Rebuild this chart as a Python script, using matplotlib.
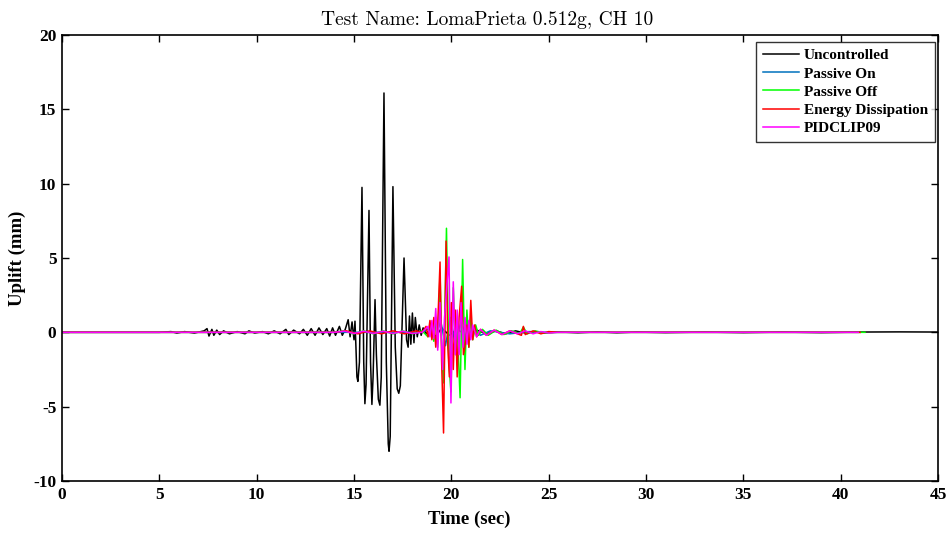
import matplotlib
matplotlib.use("Agg")
import matplotlib.pyplot as plt

# ---- data: (time sec, uplift mm) samples for each control case ----
uncontrolled = [
    (0.0, 0.0), (5.0, 0.0), (5.6, 0.05), (5.9, -0.05), (6.3, 0.05), (6.8, -0.05),
    (7.3, 0.1), (7.45, 0.25), (7.55, -0.25), (7.7, 0.2), (7.8, -0.2), (7.95, 0.15),
    (8.1, -0.15), (8.3, 0.1), (8.6, -0.1), (9.0, 0.05), (9.4, -0.1), (9.6, 0.1),
    (9.9, -0.05), (10.3, 0.05), (10.6, -0.1), (10.9, 0.1), (11.2, -0.1), (11.5, 0.2),
    (11.65, -0.15), (11.9, 0.15), (12.2, -0.1), (12.4, 0.2), (12.6, -0.2), (12.8, 0.25),
    (13.0, -0.2), (13.2, 0.3), (13.4, -0.15), (13.6, 0.25), (13.75, -0.25), (13.9, 0.3),
    (14.05, -0.2), (14.25, 0.4), (14.4, -0.2), (14.55, 0.2), (14.7, 0.85), (14.8, -0.3),
    (14.9, 0.7), (15.0, -0.5), (15.05, 0.75), (15.1, -1.0), (15.15, -3.0), (15.2, -3.3),
    (15.28, -2.0), (15.41, 9.75), (15.5, -2.0), (15.56, -4.8), (15.62, -3.5),
    (15.77, 8.2), (15.85, -2.0), (15.92, -4.85), (15.98, -3.0), (16.08, 2.2),
    (16.15, -1.5), (16.25, -4.5), (16.33, -4.9), (16.4, -3.0), (16.54, 16.1),
    (16.66, -2.0), (16.76, -7.5), (16.8, -8.0), (16.86, -7.0), (17.0, 9.8),
    (17.12, -1.0), (17.22, -3.8), (17.3, -4.1), (17.38, -3.6), (17.57, 5.0),
    (17.7, -0.5), (17.78, -1.0), (17.85, 1.1), (17.92, -0.8), (18.0, 1.3),
    (18.08, -0.7), (18.15, 1.0), (18.25, -0.3), (18.35, 0.5), (18.45, -0.2),
    (18.55, 0.3), (18.7, -0.1), (18.9, 0.2), (19.2, -0.3), (19.5, 0.3), (19.9, -0.2),
    (20.3, 0.2), (20.8, -0.2), (21.3, 0.15), (21.8, -0.1), (22.3, 0.1), (22.8, -0.1),
    (23.3, 0.1), (23.8, -0.05), (24.3, 0.05), (24.8, -0.05), (25.5, 0.03),
    (26.5, -0.03), (27.5, 0.03), (28.5, -0.03), (29.5, 0.02), (31.0, -0.02),
    (33.0, 0.02), (35.0, -0.02), (37.0, 0.02), (39.0, -0.02), (41.0, 0.02),
    (43.0, 0.03), (45.0, 0.02),
]

passive_on = [
    (0.0, 0.0), (18.5, 0.0), (18.9, 0.3), (19.2, -0.4), (19.45, 0.8), (19.7, -0.9),
    (19.95, 1.0), (20.2, -0.8), (20.5, 0.7), (20.8, -0.5), (21.1, 0.3), (21.5, -0.2),
    (22.0, 0.1), (23.0, -0.1), (24.0, 0.05), (25.0, 0.0), (41.0, 0.0),
]

passive_off = [
    (0.0, 0.0), (14.0, 0.0), (14.5, 0.1), (15.0, -0.1), (15.5, 0.1), (16.0, -0.1),
    (16.5, 0.1), (17.0, -0.1), (17.5, 0.1), (18.0, -0.1), (18.5, 0.1), (18.8, -0.3),
    (19.0, 0.5), (19.1, -0.6), (19.2, 1.0), (19.3, -1.0), (19.42, 4.0), (19.52, -1.5),
    (19.6, -3.4), (19.75, 7.0), (19.87, -2.0), (19.98, -4.0), (20.1, 3.0),
    (20.22, -1.5), (20.3, 0.5), (20.45, -4.4), (20.58, 4.9), (20.7, -2.5), (20.8, 1.5),
    (20.9, -1.0), (21.0, 1.0), (21.1, -0.5), (21.25, 0.5), (21.4, -0.2), (21.6, 0.2),
    (21.9, -0.2), (22.3, 0.15), (22.7, -0.15), (23.1, 0.1), (23.5, -0.1), (23.7, 0.35),
    (23.9, -0.1), (24.3, 0.1), (24.8, -0.05), (25.5, 0.0), (41.25, 0.0),
]

energy_dissipation = [
    (0.0, 0.0), (14.0, 0.0), (14.6, 0.1), (15.2, -0.1), (15.8, 0.1), (16.4, -0.1),
    (17.0, 0.1), (17.6, -0.1), (18.2, 0.1), (18.5, 0.0), (18.7, 0.4), (18.8, -0.3),
    (18.9, 0.8), (19.0, -0.5), (19.1, 1.0), (19.2, -1.0), (19.3, 0.5), (19.42, 4.73),
    (19.5, -1.9), (19.6, -6.77), (19.73, 6.14), (19.82, -1.0), (19.9, -3.0),
    (20.0, 2.0), (20.1, -2.5), (20.2, 1.5), (20.3, -3.0), (20.4, 1.0), (20.53, 3.1),
    (20.62, -1.5), (20.7, -1.0), (20.8, 0.5), (20.9, -1.0), (21.0, 2.15), (21.1, -0.5),
    (21.2, 0.5), (21.3, -0.3), (21.5, 0.2), (21.8, -0.2), (22.2, 0.15), (22.6, -0.15),
    (23.0, 0.1), (23.4, -0.1), (23.6, -0.2), (23.7, 0.4), (23.8, -0.15), (24.2, 0.1),
    (24.6, -0.1), (25.0, 0.05), (25.5, 0.0), (41.0, 0.0),
]

pidclip09 = [
    (0.0, 0.0), (14.0, 0.0), (14.5, 0.08), (15.0, -0.08), (15.5, 0.08), (16.0, -0.08),
    (16.5, 0.08), (17.0, -0.08), (17.5, 0.08), (18.0, -0.08), (18.5, 0.0), (18.8, 0.4),
    (18.9, -0.3), (19.0, 0.8), (19.1, -0.4), (19.2, 1.6), (19.3, -1.2), (19.42, 2.0),
    (19.55, -2.5), (19.65, 1.0), (19.88, 5.07), (19.98, -4.75), (20.1, 3.4),
    (20.2, -1.5), (20.3, 1.5), (20.4, -1.5), (20.5, 2.0), (20.6, -1.0), (20.7, 1.0),
    (20.8, -0.8), (20.9, 0.8), (21.0, -0.5), (21.1, 0.5), (21.3, -0.3), (21.5, 0.2),
    (21.8, -0.2), (22.2, 0.15), (22.6, -0.15), (23.0, 0.1), (23.4, -0.1), (23.8, 0.1),
    (24.2, -0.1), (24.6, 0.05), (25.0, -0.05), (25.5, 0.0), (40.9, 0.0),
]

series_names = ["Uncontrolled", "Passive On", "Passive Off",
                "Energy Dissipation", "PIDCLIP09"]
series_colors = ["#000000", "#0072BD", "#00FF00", "#FF0000", "#FF00FF"]

x_ticks = [0, 5, 10, 15, 20, 25, 30, 35, 40, 45]
y_ticks = [-10, -5, 0, 5, 10, 15, 20]

# ---- figure ----
plt.rcParams["font.family"] = ["Liberation Serif", "DejaVu Serif"]
plt.rcParams["axes.unicode_minus"] = False
fig = plt.figure(figsize=(9.52, 5.34), dpi=100)
ax = fig.add_axes([62 / 952, 1 - 481 / 534, 876 / 952, 446 / 534])

all_series = [uncontrolled, passive_on, passive_off, energy_dissipation, pidclip09]
for samples, name, col in zip(all_series, series_names, series_colors):
    t, v = zip(*samples)
    ax.plot(t, v, color=col, lw=1.1, label=name)

ax.set_xlim(0, 45)
ax.set_ylim(-10, 20)
ax.set_xticks(x_ticks)
ax.set_yticks(y_ticks)
ax.tick_params(direction="in", top=True, right=True, length=5, width=1.0,
               labelsize=12.5, pad=4)
for lab in ax.get_xticklabels() + ax.get_yticklabels():
    lab.set_fontweight("bold")
for sp in ax.spines.values():
    sp.set_linewidth(1.2)

ax.set_xlabel("Time (sec)", fontsize=13.5, fontweight="bold")
ax.xaxis.set_label_coords((469 - 62) / 876, (481 - 511) / 446)
ax.set_ylabel("Uplift (mm)", fontsize=13.5, fontweight="bold", labelpad=5)
title = ax.set_title("Test Name: LomaPrieta 0.512g, CH 10", fontsize=14,
                     family=["cmr10", "DejaVu Serif"], pad=7)
title.set_x((487 - 62) / 876)

leg = ax.legend(loc="upper right", bbox_to_anchor=(0.9966, 0.985), frameon=True,
                fancybox=False, edgecolor="black", handlelength=2.4,
                handletextpad=0.3, borderpad=0.45, borderaxespad=0.0,
                labelspacing=0.3, prop={"weight": "bold", "size": 11})
leg.get_frame().set_linewidth(1.0)

fig.savefig("out.png", dpi=100)
